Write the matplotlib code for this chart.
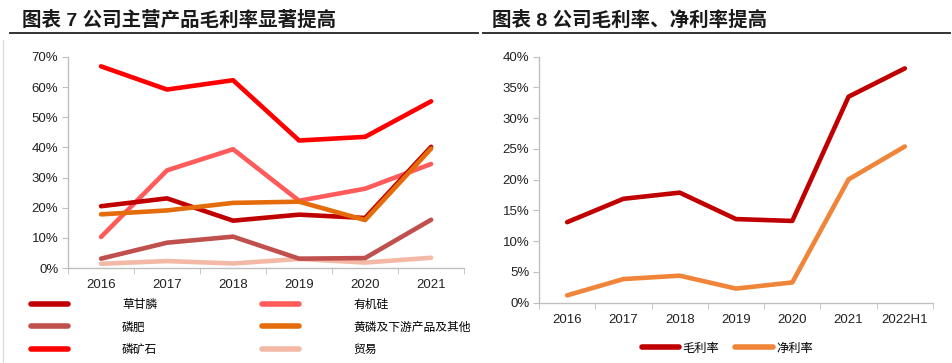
import matplotlib
matplotlib.use("Agg")
import matplotlib.pyplot as plt
from matplotlib.lines import Line2D

plt.rcParams['font.family'] = ['Liberation Sans', 'Noto Sans CJK SC', 'DejaVu Sans']

# left chart: gross margin by product
years_l = ["2016", "2017", "2018", "2019", "2020", "2021"]
caogan = [20.5, 23.1, 15.7, 17.7, 16.6, 40.2]      # 草甘膦
linfei = [3.1, 8.4, 10.4, 3.1, 3.3, 16.0]          # 磷肥
linkuang = [66.9, 59.2, 62.3, 42.3, 43.5, 55.3]    # 磷矿石
youjigui = [10.3, 32.4, 39.4, 22.3, 26.3, 34.5]    # 有机硅
huanglin = [17.8, 19.1, 21.6, 22.0, 15.9, 39.6]    # 黄磷及下游产品及其他
maoyi = [1.4, 2.3, 1.5, 3.0, 1.8, 3.4]             # 贸易

# right chart: company margins
years_r = ["2016", "2017", "2018", "2019", "2020", "2021", "2022H1"]
gross = [13.1, 16.9, 17.9, 13.6, 13.3, 33.5, 38.1]  # 毛利率
net = [1.2, 3.85, 4.4, 2.3, 3.3, 20.05, 25.4]       # 净利率

fig = plt.figure(figsize=(9.53, 3.63), dpi=100)

spine_c = "#BFBFBF"
lw = 3.3


def style_axis(ax, n, ymax, step):
    for s in ["top", "right"]:
        ax.spines[s].set_visible(False)
    for s in ["left", "bottom"]:
        ax.spines[s].set_color(spine_c)
        ax.spines[s].set_linewidth(1.0)
    ax.set_xlim(-0.5, n - 0.5)
    ax.set_ylim(0, ymax)
    yt = [i * step for i in range(int(round(ymax / step)) + 1)]
    ax.set_yticks(yt)
    ax.set_yticklabels([f"{int(v)}%" for v in yt], fontsize=9.5, color="#222222")
    ax.set_xticks(range(n))
    ax.tick_params(axis="x", which="major", length=0, pad=8, labelsize=9.5, labelcolor="#222222")
    ax.set_xticks([i - 0.5 for i in range(n + 1)], minor=True)
    ax.tick_params(axis="x", which="minor", length=4, color=spine_c)
    ax.tick_params(axis="y", length=4, color=spine_c, pad=3)


# ---- left chart
ax1 = fig.add_axes([0.0714, 0.2617, 0.4156, 0.5813])
x = range(len(years_l))
ax1.plot(x, maoyi, color="#F4B9A6", lw=lw, label="贸易", solid_capstyle="round")
ax1.plot(x, linfei, color="#C0504D", lw=lw, label="磷肥", solid_capstyle="round")
ax1.plot(x, youjigui, color="#FF5B5B", lw=lw, label="有机硅", solid_capstyle="round")
ax1.plot(x, caogan, color="#C00000", lw=lw, label="草甘膦", solid_capstyle="round")
ax1.plot(x, huanglin, color="#E46C0A", lw=lw, label="黄磷及下游产品及其他", solid_capstyle="round")
ax1.plot(x, linkuang, color="#FF0000", lw=lw, label="磷矿石", solid_capstyle="round")
style_axis(ax1, len(years_l), 70, 10)
ax1.set_xticklabels(years_l)

h = {l.get_label(): l for l in ax1.get_lines()}
order = ["草甘膦", "磷肥", "磷矿石", "有机硅", "黄磷及下游产品及其他", "贸易"]
fig.legend([Line2D([], [], color=h[k].get_color(), lw=4, solid_capstyle="round") for k in order],
           order, loc="upper left", bbox_to_anchor=(0.0325, 0.178), ncol=2, frameon=False,
           prop={"family": ["Noto Sans CJK SC"], "size": 8.5},
           handlelength=3.1, handletextpad=4.6, columnspacing=8.9, labelspacing=0.78,
           borderpad=0, borderaxespad=0)

# ---- right chart
ax2 = fig.add_axes([0.5656, 0.166, 0.4134, 0.6778])
x2 = range(len(years_r))
ax2.plot(x2, gross, color="#C00000", lw=lw, label="毛利率", solid_capstyle="round")
ax2.plot(x2, net, color="#F0853A", lw=lw, label="净利率", solid_capstyle="round")
style_axis(ax2, len(years_r), 40, 5)
ax2.set_xticklabels(years_r)
fig.legend(handles=[Line2D([], [], color="#C00000", lw=4, solid_capstyle="round"),
                    Line2D([], [], color="#F0853A", lw=4, solid_capstyle="round")],
           labels=["毛利率", "净利率"], loc="center", bbox_to_anchor=(0.763, 0.041), ncol=2,
           frameon=False, prop={"family": ["Noto Sans CJK SC"], "size": 8.8},
           handlelength=3.1, handletextpad=0.25, columnspacing=1.3, borderpad=0)

# ---- titles and rules
fig.text(0.023, 0.945, "图表 7 公司主营产品毛利率显著提高", fontsize=14, fontweight="bold",
         color="#1a1a1a", va="center", family=["Liberation Sans", "Noto Sans CJK SC"])
fig.text(0.516, 0.945, "图表 8 公司毛利率、净利率提高", fontsize=14, fontweight="bold",
         color="#1a1a1a", va="center", family=["Liberation Sans", "Noto Sans CJK SC"])
fig.add_artist(Line2D([0.011, 0.502], [0.909, 0.909], color="#333333", lw=1.4))
fig.add_artist(Line2D([0.507, 0.997], [0.909, 0.909], color="#333333", lw=1.4))
fig.add_artist(Line2D([0.003, 0.003], [0.0, 0.89], color="#DDDDDD", lw=1.0))

fig.savefig("out.png", dpi=100)
